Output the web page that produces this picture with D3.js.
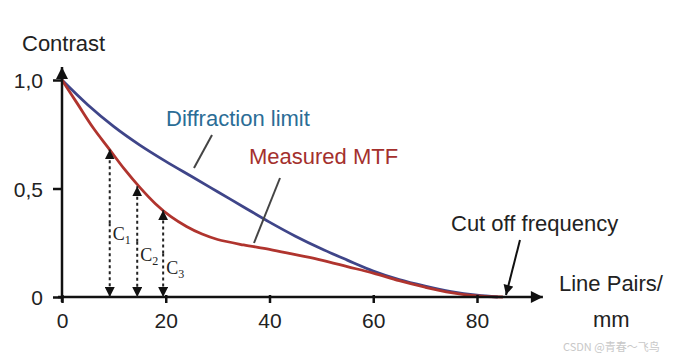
<!DOCTYPE html>
<html>
<head>
<meta charset="utf-8">
<script src="https://cdn.jsdelivr.net/npm/d3@7"></script>
<style>
  html, body { margin: 0; padding: 0; background: #fff; }
  svg text { font-family: "Liberation Sans", Arial, sans-serif; }
  svg text.serif { font-family: "Liberation Serif", "Times New Roman", serif; }
  svg text.cjk { font-family: "Noto Sans CJK SC", "Noto Sans", sans-serif; }
</style>
</head>
<body>
<div id="chart"></div>
<script>
// line pairs / mm
var xTicks = [0, 20, 40, 60, 80];
var yTicks = [0, 0.5, 1.0];

var diffractionX = [0, 5, 10, 15, 20, 25, 30, 35, 40, 45, 50, 55, 60, 65, 70, 75, 80, 84];
var diffractionY = [1.0, 0.885, 0.785, 0.70, 0.625, 0.555, 0.485, 0.415, 0.345, 0.28, 0.222, 0.17, 0.12, 0.08, 0.05, 0.025, 0.008, 0];

var measuredX = [0, 3, 6, 9, 12, 15, 18, 21, 24, 27, 30, 35, 40, 45, 50, 55, 60, 65, 70, 75, 80, 85];
var measuredY = [1.0, 0.89, 0.78, 0.685, 0.59, 0.505, 0.43, 0.37, 0.325, 0.29, 0.265, 0.24, 0.22, 0.195, 0.17, 0.14, 0.11, 0.075, 0.045, 0.02, 0.005, 0];

// contrast markers C1..C3
var cNames = ["C", "C", "C"];
var cSubs = ["1", "2", "3"];
var cX = [9.2, 14.5, 19.5];
var cY = [0.68, 0.51, 0.4];

var W = 681, H = 359;
var svg = d3.select('#chart').append('svg')
    .attr('width', W)
    .attr('height', H);

var x = d3.scaleLinear().domain([0, 80]).range([62, 477]);
var y = d3.scaleLinear().domain([0, 1]).range([297, 80]);

var defs = svg.append('defs');
function marker(id, w, h) {
  defs.append('marker')
      .attr('id', id)
      .attr('viewBox', '0 0 10 10')
      .attr('refX', 10).attr('refY', 5)
      .attr('markerUnits', 'userSpaceOnUse')
      .attr('markerWidth', w).attr('markerHeight', h)
      .attr('orient', 'auto')
    .append('path')
      .attr('d', 'M0,0 L10,5 L0,10 Z')
      .attr('fill', '#111');
}
marker('axisArrow', 14, 12);
marker('smallArrow', 10, 10);
marker('cutArrow', 12, 10);

// curves
var line = d3.line()
    .x(function(d) { return x(d[0]); })
    .y(function(d) { return y(d[1]); })
    .curve(d3.curveCatmullRom.alpha(0.5));

svg.append('path')
    .datum(d3.zip(diffractionX, diffractionY))
    .attr('d', line)
    .attr('fill', 'none')
    .attr('stroke', '#3f4589')
    .attr('stroke-width', 2.8);

svg.append('path')
    .datum(d3.zip(measuredX, measuredY))
    .attr('d', line)
    .attr('fill', 'none')
    .attr('stroke', '#b0342e')
    .attr('stroke-width', 2.8);

// axes
var fmt = d3.formatLocale({decimal: ',', thousands: '.', grouping: [3], currency: ['', '']}).format('.1f');

var gx = svg.append('g')
    .attr('transform', 'translate(0,' + y(0) + ')')
    .call(d3.axisBottom(x).tickValues(xTicks).tickSize(6).tickPadding(10));
gx.select('.domain').remove();
gx.selectAll('line').attr('stroke', '#111').attr('stroke-width', 2.5).attr('y1', -2);
gx.selectAll('text').attr('font-size', 21).attr('fill', '#222').attr('dy', '0.72em');

var gy = svg.append('g')
    .attr('transform', 'translate(' + x(0) + ',0)')
    .call(d3.axisLeft(y).tickValues(yTicks).tickSize(9).tickPadding(10)
      .tickFormat(function(d) { return d === 0 ? '0' : fmt(d); }));
gy.select('.domain').remove();
gy.selectAll('line').attr('stroke', '#111').attr('stroke-width', 2.5);
gy.selectAll('text').attr('font-size', 21).attr('fill', '#222').attr('dy', '0.36em');

svg.append('line')
    .attr('x1', x(0) - 4).attr('y1', y(0))
    .attr('x2', x(92.7)).attr('y2', y(0))
    .attr('stroke', '#111').attr('stroke-width', 2.5)
    .attr('marker-end', 'url(#axisArrow)');

svg.append('line')
    .attr('x1', x(0)).attr('y1', y(0) + 5)
    .attr('x2', x(0)).attr('y2', y(1.06))
    .attr('stroke', '#111').attr('stroke-width', 2.5)
    .attr('marker-end', 'url(#axisArrow)');

// dotted double arrows
var arrows = svg.append('g');
cX.forEach(function(cx, i) {
  var mid = (y(0) + y(cY[i])) / 2;
  arrows.append('line')
      .attr('x1', x(cx)).attr('y1', mid)
      .attr('x2', x(cx)).attr('y2', y(cY[i]))
      .attr('stroke', '#222').attr('stroke-width', 2)
      .attr('stroke-dasharray', '3,3')
      .attr('marker-end', 'url(#smallArrow)');
  arrows.append('line')
      .attr('x1', x(cx)).attr('y1', mid)
      .attr('x2', x(cx)).attr('y2', y(0))
      .attr('stroke', '#222').attr('stroke-width', 2)
      .attr('stroke-dasharray', '3,3')
      .attr('marker-end', 'url(#smallArrow)');
  var t = arrows.append('text')
      .attr('class', 'serif')
      .attr('x', x(cx) + 3)
      .attr('y', [240, 261, 274][i])
      .attr('font-size', 18)
      .attr('fill', '#222')
      .text(cNames[i]);
  t.append('tspan')
      .attr('font-size', 12)
      .attr('dy', 4)
      .text(cSubs[i]);
});

// labels
svg.append('text')
    .attr('x', 22).attr('y', 51)
    .attr('font-size', 22).attr('fill', '#222')
    .text('Contrast');

svg.append('text')
    .attr('x', 166).attr('y', 126)
    .attr('font-size', 22).attr('fill', '#2b6d96')
    .text('Diffraction limit');
svg.append('line')
    .attr('x1', 212).attr('y1', 135).attr('x2', 194).attr('y2', 168)
    .attr('stroke', '#444').attr('stroke-width', 2);

svg.append('text')
    .attr('x', 249).attr('y', 164)
    .attr('font-size', 22).attr('fill', '#a4302d')
    .text('Measured MTF');
svg.append('line')
    .attr('x1', 280).attr('y1', 178).attr('x2', 254).attr('y2', 243)
    .attr('stroke', '#444').attr('stroke-width', 2);

svg.append('text')
    .attr('x', 451).attr('y', 231)
    .attr('font-size', 22).attr('fill', '#222')
    .text('Cut off frequency');
svg.append('line')
    .attr('x1', 520).attr('y1', 240).attr('x2', 506).attr('y2', 295)
    .attr('stroke', '#111').attr('stroke-width', 2)
    .attr('marker-end', 'url(#cutArrow)');

svg.append('text')
    .attr('x', 559).attr('y', 291)
    .attr('font-size', 22).attr('fill', '#222')
    .text('Line Pairs/');
svg.append('text')
    .attr('x', 593).attr('y', 327)
    .attr('font-size', 22).attr('fill', '#222')
    .text('mm');

svg.append('text')
    .attr('class', 'cjk')
    .attr('x', 563).attr('y', 351)
    .attr('font-size', 11).attr('fill', '#c8c8c8')
    .text('CSDN @青春～飞鸟');
</script>
</body>
</html>
